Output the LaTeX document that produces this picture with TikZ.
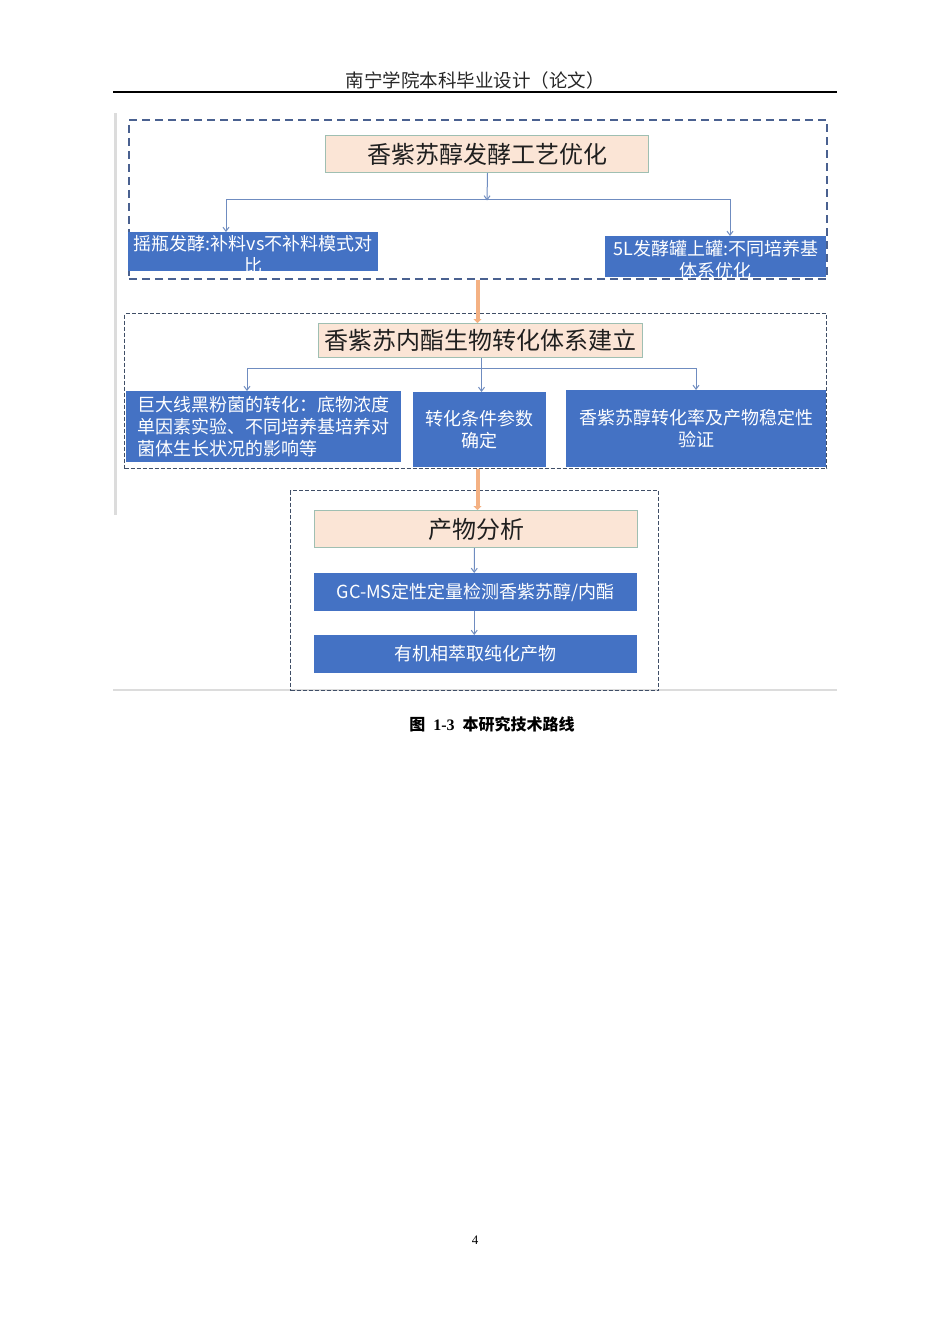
\documentclass[tikz,border=0pt]{standalone}
\usepackage{fontspec}
\setmainfont{Liberation Serif}
\newfontfamily\cjk{Noto Sans CJK SC}
\usetikzlibrary{arrows.meta}
\definecolor{boxblue}{HTML}{4472C4}
\definecolor{peach}{HTML}{FBE5D6}
\definecolor{pkborder}{HTML}{9FBFB2}
\definecolor{dashA}{HTML}{4A6190}
\definecolor{dashB}{HTML}{3F4E66}
\definecolor{connc}{HTML}{6F8CC0}
\definecolor{orangec}{HTML}{F4B183}
\definecolor{grayc}{HTML}{DCDCDC}
\begin{document}
\begin{tikzpicture}[x=1pt,y=-1pt,
  titlebox/.style={draw=pkborder, fill=peach, line width=1pt, inner sep=0pt, anchor=north west,
    text=black!88, font=\cjk\fontsize{24}{28}\selectfont},
  bluebox/.style={fill=boxblue, draw=none, inner sep=0pt, anchor=north west, text=white,
    align=center, font=\cjk\fontsize{18}{22}\selectfont},
  conn/.style={draw=connc, line width=1pt},
  arr/.style={conn, -{Straight Barb[length=4pt,width=6pt]}},
  dboxA/.style={draw=dashA, dash pattern=on 8pt off 5pt, line width=1.6pt, inner sep=0pt, anchor=north west},
  dboxB/.style={draw=dashB, dash pattern=on 4pt off 2pt, line width=1.3pt, inner sep=0pt, anchor=north west},
  oconn/.style={draw=orangec, line width=4pt, -{Triangle[length=4pt,width=8pt]}},
  graybar/.style={draw=grayc}
]
\useasboundingbox (0,0) rectangle (950,1344);

% header
\node[font=\cjk\fontsize{18.5}{22}\selectfont, text=black!85] (hdr) at (475,80) {南宁学院本科毕业设计（论文）};
\coordinate (hl) at (113,92);
\coordinate (hr) at (837,92);
\draw[line width=1.8pt] (hl) -- (hr);

% gray frame of the picture
\coordinate (gt) at (115,113);
\coordinate (gb) at (115,515);
\draw[graybar, line width=3pt] (gt) -- (gb);
\coordinate (gl) at (113,690);
\coordinate (gr) at (837,690);
\draw[graybar, line width=1.5pt] (gl) -- (gr);

% ---------- section 1 ----------
\node[dboxA, minimum width=698, minimum height=159] (g1) at (128,119) {};
\node[titlebox, minimum width=323, minimum height=37] (t1) at (325,135) {香紫苏醇发酵工艺优化};
\node[bluebox, minimum width=250, minimum height=39] (b1) at (128,232)
  {\raisebox{-10pt}[0pt][0pt]{\begin{tabular}{@{}c@{}}摇瓶发酵:补料vs不补料模式对\\比\end{tabular}}};
\node[bluebox, minimum width=221, minimum height=41] (b2) at (605,236)
  {\raisebox{-10pt}[0pt][0pt]{\begin{tabular}{@{}c@{}}5L发酵罐上罐:不同培养基\\体系优化\end{tabular}}};
\coordinate (j1) at (487,199);
\coordinate (j1l) at (226,199);
\coordinate (j1r) at (730,199);
\draw[arr] ([xshift=0.5pt]t1.south) -- ([yshift=-1.5pt]j1);
\draw[conn] (j1l) -- (j1r);
\draw[arr] (j1l) -- (j1l |- b1.north);
\draw[arr] (j1r) -- (j1r |- b2.north);

% ---------- section 2 ----------
\node[dboxB, minimum width=702, minimum height=155] (g2) at (124,313) {};
\node[titlebox, minimum width=324, minimum height=34] (t2) at (318,323) {香紫苏内酯生物转化体系建立};
\node[bluebox, minimum width=275, minimum height=71, align=left] (m1) at (126,391)
  {巨大线黑粉菌的转化：底物浓度\\单因素实验、不同培养基培养对\\菌体生长状况的影响等};
\node[bluebox, minimum width=133, minimum height=75] (m2) at (413,392) {转化条件参数\\确定};
\node[bluebox, minimum width=260, minimum height=77] (m3) at (566,390) {香紫苏醇转化率及产物稳定性\\验证};
\coordinate (j2l) at (247,368);
\coordinate (j2r) at (696,368);
\draw[conn] (j2l) -- (j2r);
\draw[arr] (j2l) -- (j2l |- m1.north);
\draw[arr] (j2r) -- (j2r |- m3.north);
\draw[arr] ([xshift=1pt]t2.south) -- ([xshift=1pt]t2.south |- m2.north);

% orange link 1 -> 2
\draw[oconn] ([xshift=-3pt]t2.north |- g1.south) -- ([xshift=-3pt]t2.north);

% ---------- section 3 ----------
\node[dboxB, minimum width=368, minimum height=200] (g3) at (290,490) {};
\node[titlebox, minimum width=323, minimum height=37] (t3) at (314,510) {产物分析};
\node[bluebox, minimum width=323, minimum height=38] (p1) at (314,573) {GC-MS定性定量检测香紫苏醇/内酯};
\node[bluebox, minimum width=323, minimum height=38] (p2) at (314,635) {有机相萃取纯化产物};
\draw[arr] ([xshift=-1.5pt]t3.south) -- ([xshift=-1.5pt]p1.north);
\draw[arr] ([xshift=-1.5pt]p1.south) -- ([xshift=-1.5pt]p2.north);

% orange link 2 -> 3
\draw[oconn] ([xshift=1.5pt]t3.north |- g2.south) -- ([xshift=1.5pt]t3.north);

% caption
\node[font=\fontsize{16}{19}\selectfont] (cap) at (492,724)
  {{\cjk\bfseries 图}\ \ \textbf{1-3}\ \ {\cjk\bfseries 本研究技术路线}};

% page number
\node[font=\fontsize{13}{15}\selectfont] (pg) at (475,1240) {4};
\end{tikzpicture}
\end{document}
